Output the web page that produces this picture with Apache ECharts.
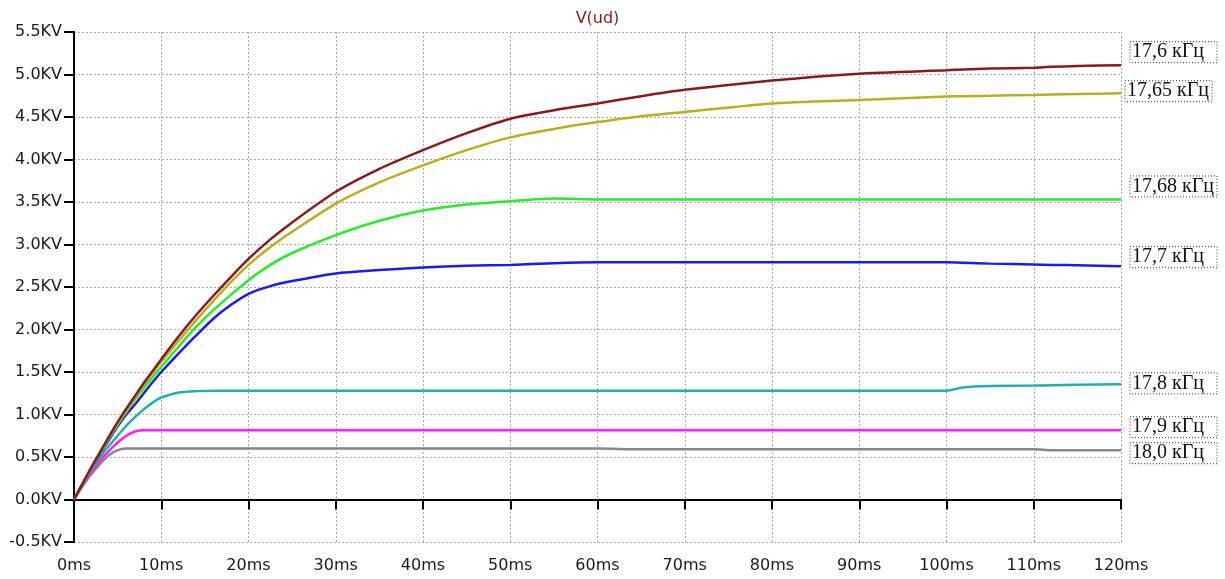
<!DOCTYPE html>
<html>
<head>
<meta charset="utf-8">
<title>V(ud)</title>
<script src="https://cdn.jsdelivr.net/npm/echarts@6/dist/echarts.min.js"></script>
<style>
  html, body { margin: 0; padding: 0; background: #fff; }
  #chart { width: 1225px; height: 579px; }
</style>
</head>
<body>
<div id="chart"></div>
<script>
// time axis, ms
const timeMs = [0, 1, 2, 3, 4, 5, 6, 7, 8, 9, 10, 12, 14, 16, 18, 20, 22.5, 25, 30, 35, 40, 45, 50, 55, 60, 65, 70, 80, 90, 100, 102, 105, 110, 112, 115, 120]

// V(ud), KV, one array per frequency
const v176 = [0, 0.19, 0.38, 0.56, 0.74, 0.91, 1.07, 1.22, 1.37, 1.51, 1.65, 1.92, 2.17, 2.40, 2.62, 2.83, 3.06, 3.26, 3.62, 3.89, 4.11, 4.31, 4.48, 4.58, 4.66, 4.745, 4.82, 4.93, 5.01, 5.05, 5.06, 5.07, 5.08, 5.09, 5.10, 5.11]
const v1765 = [0, 0.19, 0.38, 0.56, 0.73, 0.90, 1.05, 1.20, 1.35, 1.49, 1.62, 1.87, 2.11, 2.34, 2.56, 2.76, 2.97, 3.15, 3.48, 3.73, 3.93, 4.11, 4.26, 4.36, 4.44, 4.51, 4.56, 4.66, 4.70, 4.74, 4.745, 4.75, 4.76, 4.765, 4.77, 4.78]
const v1768 = [0, 0.19, 0.37, 0.55, 0.72, 0.88, 1.03, 1.18, 1.31, 1.44, 1.56, 1.80, 2.03, 2.23, 2.41, 2.58, 2.76, 2.90, 3.11, 3.28, 3.40, 3.47, 3.51, 3.54, 3.53, 3.53, 3.53, 3.53, 3.53, 3.53, 3.53, 3.53, 3.53, 3.53, 3.53, 3.53]
const v177 = [0, 0.19, 0.37, 0.54, 0.70, 0.86, 1.00, 1.12, 1.25, 1.38, 1.50, 1.72, 1.93, 2.13, 2.29, 2.42, 2.51, 2.57, 2.66, 2.70, 2.73, 2.75, 2.76, 2.78, 2.79, 2.79, 2.79, 2.79, 2.79, 2.79, 2.785, 2.775, 2.765, 2.76, 2.755, 2.745]
const v178 = [0, 0.18, 0.35, 0.50, 0.63, 0.75, 0.87, 0.97, 1.06, 1.14, 1.20, 1.26, 1.275, 1.28, 1.28, 1.28, 1.28, 1.28, 1.28, 1.28, 1.28, 1.28, 1.28, 1.28, 1.28, 1.28, 1.28, 1.28, 1.28, 1.28, 1.32, 1.335, 1.34, 1.345, 1.35, 1.355]
const v179 = [0, 0.17, 0.32, 0.46, 0.57, 0.67, 0.75, 0.80, 0.815, 0.815, 0.815, 0.815, 0.815, 0.815, 0.815, 0.815, 0.815, 0.815, 0.815, 0.815, 0.815, 0.815, 0.815, 0.815, 0.815, 0.815, 0.815, 0.815, 0.815, 0.815, 0.815, 0.815, 0.815, 0.815, 0.815, 0.815]
const v180 = [0, 0.16, 0.30, 0.42, 0.52, 0.58, 0.60, 0.60, 0.60, 0.60, 0.60, 0.60, 0.60, 0.60, 0.60, 0.60, 0.60, 0.60, 0.60, 0.60, 0.60, 0.60, 0.60, 0.60, 0.60, 0.59, 0.59, 0.59, 0.59, 0.59, 0.59, 0.59, 0.59, 0.58, 0.58, 0.58]

const labels = ['17,6 кГц', '17,65 кГц', '17,68 кГц', '17,7 кГц', '17,8 кГц', '17,9 кГц', '18,0 кГц']
const values = [v176, v1765, v1768, v177, v178, v179, v180]

// look of each trace: colour, label shift
const colors = ['#8c1a1a', '#bdae1c', '#26ee26', '#1a1af5', '#1fb0b0', '#ff1cff', '#888888']
const labelShift = [[9, -13], [4, -2], [9, -13], [9, -9], [9, -1], [9, -3], [9, 3]]

const chart = echarts.init(document.getElementById('chart'))

const axisFont = { fontFamily: 'DejaVu Sans', fontSize: 16, color: '#1a1a1a' }
const blackLine = { show: true, lineStyle: { color: '#000', width: 2 } }

const series = labels.map((name, i) => ({
  name,
  type: 'line',
  data: timeMs.map((t, k) => [t, values[i][k]]),
  showSymbol: false,
  smooth: 0.2,
  lineStyle: { color: colors[i], width: 2.5 },
  itemStyle: { color: colors[i] },
  z: 10 - i,
  endLabel: {
    show: true,
    formatter: name,
    distance: labelShift[i][0],
    offset: [0, labelShift[i][1]],
    fontFamily: 'Liberation Serif',
    fontSize: 20,
    color: '#111',
    width: 82,
    padding: [1, 3, 0, 2],
    borderColor: '#333',
    borderWidth: 1,
    borderType: [1, 2]
  }
}))

const option = {
  animation: false,
  backgroundColor: '#fff',
  grid: { left: 74, right: 104, top: 32, bottom: 37, outerBoundsMode: 'none' },
  xAxis: [
    {
      type: 'value',
      min: 0,
      max: 120,
      interval: 10,
      axisLine: blackLine,
      axisTick: { show: true, length: 10, lineStyle: { color: '#000', width: 2 } },
      axisLabel: Object.assign({ margin: 16, formatter: '{value}ms' }, axisFont),
      splitLine: { show: true, lineStyle: { color: '#aaa', width: 1, type: [2, 2] } }
    },
    {
      type: 'value',
      position: 'top',
      min: 0,
      max: 120,
      interval: 10,
      name: 'V(ud)',
      nameLocation: 'middle',
      nameGap: 5,
      nameTextStyle: { fontFamily: 'DejaVu Sans', fontSize: 16, color: '#8c1a1a' },
      axisLine: blackLine,
      axisTick: { show: true, inside: true, length: 4, lineStyle: { color: '#000', width: 1 } },
      axisLabel: { show: false },
      splitLine: { show: false }
    }
  ],
  yAxis: [
    {
      type: 'value',
      min: -0.5,
      max: 5.5,
      interval: 0.5,
      axisLine: blackLine,
      axisTick: { show: true, length: 10, lineStyle: { color: '#000', width: 2 } },
      axisLabel: Object.assign({ margin: 12, formatter: v => v.toFixed(1) + 'KV' }, axisFont),
      splitLine: { show: true, lineStyle: { color: '#aaa', width: 1, type: [2, 2] } }
    },
    {
      type: 'value',
      position: 'right',
      min: -0.5,
      max: 5.5,
      interval: 0.5,
      axisLine: blackLine,
      axisTick: { show: false },
      axisLabel: { show: false },
      splitLine: { show: false }
    }
  ],
  series
}

chart.setOption(option)
</script>
</body>
</html>
